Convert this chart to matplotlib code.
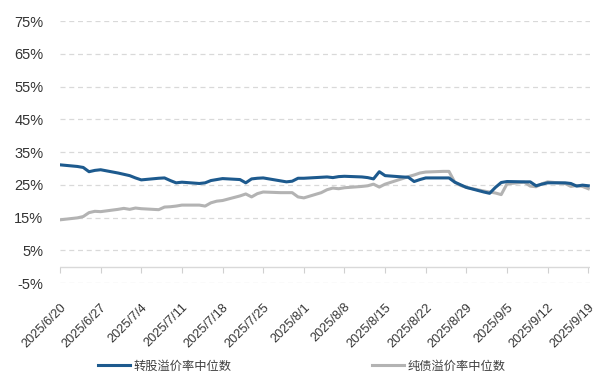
import numpy as np
import pandas as pd
import matplotlib
matplotlib.use("Agg")
import matplotlib.pyplot as plt
import matplotlib.dates as mdates

plt.rcParams['font.family'] = ['Liberation Sans', 'DejaVu Sans']

# trading days 2025/6/20 - 2025/9/19 (no holidays in this window)
dates = pd.bdate_range('2025-06-20', '2025-09-19')

# 转股溢价率中位数 (%)
conv_premium = [
    31.1,
    30.6, 30.3, 29.0, 29.4, 29.6,
    28.6, 28.2, 27.8, 27.1, 26.5,
    27.0, 27.1, 26.3, 25.6, 25.8,
    25.4, 25.6, 26.3, 26.6, 26.9,
    26.6, 25.6, 26.8, 27.0, 27.1,
    26.2, 25.9, 26.1, 27.0, 27.0,
    27.3, 27.4, 27.2, 27.5, 27.6,
    27.4, 27.2, 26.8, 29.0, 27.8,
    27.4, 27.3, 26.0, 26.6, 27.1,
    27.1, 27.1, 25.8, 25.0, 24.2,
    22.8, 22.4, 24.2, 25.7, 26.0,
    25.9, 25.9, 24.7, 25.2, 25.6,
    25.6, 25.4, 24.6, 24.9, 24.7,
]

# 纯债溢价率中位数 (%)
bond_premium = [
    14.3,
    14.9, 15.3, 16.5, 16.9, 16.8,
    17.5, 17.8, 17.5, 17.9, 17.7,
    17.4, 18.2, 18.3, 18.5, 18.8,
    18.8, 18.5, 19.5, 20.0, 20.2,
    21.6, 22.2, 21.3, 22.3, 22.8,
    22.6, 22.6, 22.6, 21.3, 21.0,
    22.6, 23.5, 24.0, 23.8, 24.1,
    24.5, 24.7, 25.2, 24.3, 25.2,
    26.9, 27.5, 28.0, 28.6, 28.9,
    29.1, 29.1, 25.8, 24.8, 24.2,
    23.1, 22.8, 22.5, 22.0, 25.3,
    25.8, 24.6, 24.4, 25.3, 25.9,
    25.4, 24.5, 24.8, 24.5, 23.8,
]

y_ticks = [-5, 5, 15, 25, 35, 45, 55, 65, 75]

fig = plt.figure(figsize=(6.03, 3.84), dpi=100)
ax = fig.add_axes([0.0995, 0.263, 0.879, 0.682])

ax.plot(dates, conv_premium, color='#1d5a8e', lw=2.2, label='转股溢价率中位数', zorder=3)
ax.plot(dates, bond_premium, color='#b3b3b3', lw=2.2, label='纯债溢价率中位数', zorder=2)

ax.set_ylim(-5, 75)
ax.set_xlim(pd.Timestamp('2025-06-20'), pd.Timestamp('2025-09-19') + pd.Timedelta(days=0.3))
ax.set_yticks(y_ticks)
ax.set_yticklabels([f'{v}%' for v in y_ticks])
for v in y_ticks:
    ax.axhline(v, color='#d9d9d9', lw=0.9, ls=(0, (4, 3)), zorder=0)
ax.axhline(0, color='#d9d9d9', lw=1.0, zorder=1)

for s in ax.spines.values():
    s.set_visible(False)

week_ticks = pd.date_range('2025-06-20', '2025-09-19', freq='7D')
ax.set_xticks(week_ticks)
ax.set_xticklabels([f'{d.year}/{d.month}/{d.day}' for d in week_ticks],
                   rotation=45, ha='right', rotation_mode='anchor')
ax.tick_params(axis='x', length=0, pad=13, labelsize=9.2, labelcolor='#333333')
ax.tick_params(axis='y', length=0, pad=12, labelsize=10.5, labelcolor='#333333')

# tick marks sitting on the 0% line
sec = ax.secondary_xaxis(5 / 80)
sec.set_xticks(week_ticks)
sec.set_xticklabels([])
sec.tick_params(length=4, color='#d0d0d0', direction='out')
sec.spines['bottom'].set_visible(False)

fig.legend(loc='center', bbox_to_anchor=(0.5, 0.047), ncol=2, frameon=False,
           handlelength=2.6, columnspacing=11.5, handletextpad=0.3,
           prop={'family': ['Noto Sans CJK SC', 'DejaVu Sans'], 'size': 8.8},
           labelcolor='#404040')

fig.savefig('out.png', dpi=100)
